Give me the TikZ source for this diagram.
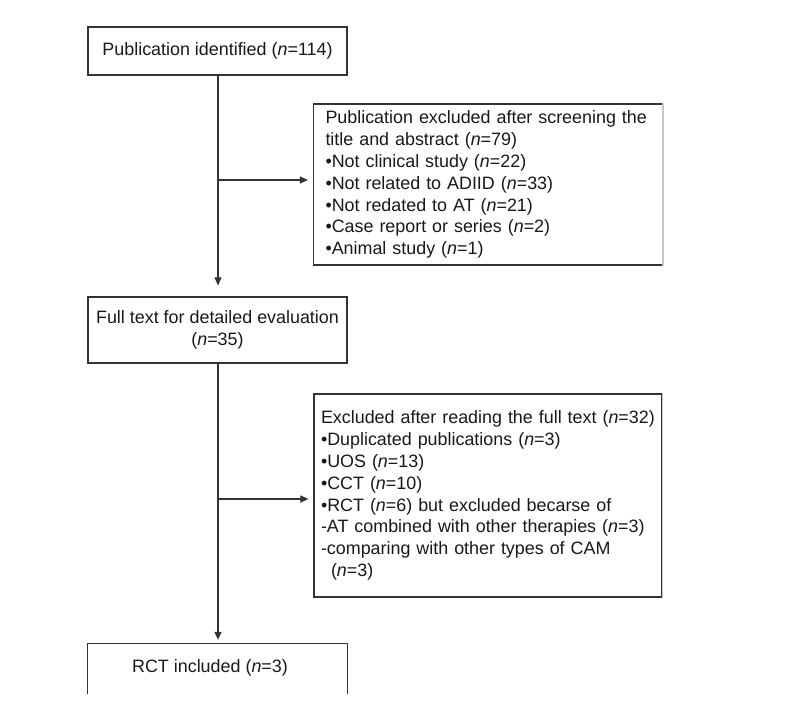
\documentclass[tikz,border=0pt]{standalone}
\usepackage{fontspec}
\setmainfont{Liberation Sans}
\usetikzlibrary{arrows.meta}
\begin{document}
\begin{tikzpicture}[x=1pt,y=-1pt,
  every node/.style={font=\fontsize{17.9}{21.9}\selectfont, text=black!90},
  box/.style={draw=black!80, line width=1.2pt, inner sep=0pt},
  conn/.style={draw=black!80, line width=1.1pt, -{Triangle[length=8pt,width=7pt]}}]
\useasboundingbox (0,0) rectangle (785,716);
\fill[white] (0,0) rectangle (785,716);

\node[box, minimum width=259pt, minimum height=48pt, align=center] (b1) at (217.5,51) {Publication identified (\textit{n}=114)};

\node[box, minimum width=348pt, minimum height=161pt, text width=325pt, inner xsep=12pt, align=left] (b2) at (488,184.5)
{Publication excluded after screening the\\
title and abstract (\textit{n}=79)\\
•Not clinical study (\textit{n}=22)\\
•Not related to ADIID (\textit{n}=33)\\
•Not redated to AT (\textit{n}=21)\\
•Case report or series (\textit{n}=2)\\
•Animal study (\textit{n}=1)};

\node[box, minimum width=259pt, minimum height=66pt, align=center] (b3) at (217.5,330)
{Full text for detailed evaluation\\(\textit{n}=35)};

\node[box, minimum width=348pt, minimum height=203pt, text width=334pt, inner xsep=7pt, align=left] (b4) at (488,495.5)
{Excluded after reading the full text (\textit{n}=32)\\
•Duplicated publications (\textit{n}=3)\\
•UOS (\textit{n}=13)\\
•CCT (\textit{n}=10)\\
•RCT (\textit{n}=6) but excluded becarse of\\
-AT combined with other therapies (\textit{n}=3)\\
-comparing with other types of CAM\\
\hspace*{10pt}(\textit{n}=3)};

\node[inner sep=0pt, minimum width=259pt, minimum height=50pt] (b5) at (217.5,669) {};
\node[inner sep=0pt] (t5) at (210,668) {RCT included (\textit{n}=3)};
\draw[box] (b5.south west) -- (b5.north west) -- (b5.north east) -- (b5.south east);

% lighter right edges of the exclusion boxes
\draw[black!22, line width=1.6pt] (b2.north east) -- (b2.south east);
\draw[black!22, line width=1.6pt] (b4.north east) -- (b4.south east);

\coordinate (j1) at (218,180);
\coordinate (j2) at (218,499);
\draw[conn, shorten >=11pt] (218,75) coordinate (s1) -- (b3.north -| s1);
\draw[conn, shorten >=5pt] (j1) -- (j1 -| b2.west);
\draw[conn, shorten >=4pt] (218,363) coordinate (s2) -- (b5.north -| s2);
\draw[conn, shorten >=5pt] (j2) -- (j2 -| b4.west);
\end{tikzpicture}
\end{document}
